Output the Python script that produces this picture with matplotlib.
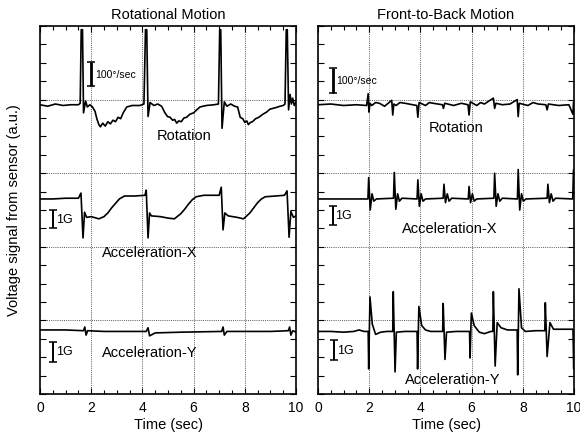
import matplotlib
matplotlib.use("Agg")
import matplotlib.pyplot as plt
from matplotlib.ticker import MultipleLocator, NullFormatter

plt.rcParams['font.family'] = ['Liberation Sans', 'DejaVu Sans']

# ---------------- data (time in sec, signal in arbitrary units) ----------------
rot_left_t = [0, 0.3, 0.6, 0.9, 1.2, 1.5, 1.57, 1.61, 1.66, 1.70, 1.78, 1.85, 1.95, 2.05, 2.15, 2.22,
              2.3, 2.36, 2.45, 2.55, 2.65, 2.75, 2.85, 2.95, 3.05, 3.15, 3.25, 3.39, 3.6, 3.9,
              4.06, 4.12, 4.17, 4.22, 4.3, 4.45, 4.6, 4.75, 4.88, 4.98, 5.08, 5.18, 5.26, 5.34, 5.42,
              5.52, 5.62, 5.73, 5.85, 6.0, 6.12, 6.25, 6.5, 6.8, 6.97, 7.02, 7.06, 7.11, 7.2, 7.3,
              7.45, 7.6, 7.72, 7.82, 7.92, 8.0, 8.08, 8.14, 8.22, 8.3, 8.42, 8.55, 8.7, 8.85, 8.98,
              9.2, 9.38, 9.5, 9.57, 9.62, 9.66, 9.71, 9.77, 9.82, 9.87, 9.93, 10.0]
rot_left_v = [3.93, 3.91, 3.94, 3.92, 3.93, 3.93, 3.95, 4.95, 4.95, 3.82, 3.98, 3.90, 3.93, 3.90, 3.84, 3.74,
              3.66, 3.63, 3.68, 3.64, 3.70, 3.67, 3.72, 3.70, 3.76, 3.74, 3.82, 3.90, 3.92, 3.92,
              3.94, 4.95, 4.95, 3.77, 3.96, 3.92, 3.94, 3.91, 3.82, 3.77, 3.76, 3.72, 3.73, 3.68, 3.71,
              3.70, 3.75, 3.76, 3.80, 3.82, 3.86, 3.90, 3.92, 3.93, 3.94, 4.95, 4.95, 3.61, 3.97, 3.91,
              3.94, 3.91, 3.90, 3.76, 3.74, 3.69, 3.71, 3.66, 3.69, 3.70, 3.74, 3.76, 3.80, 3.83, 3.87,
              3.89, 3.91, 3.92, 3.94, 4.95, 4.95, 3.86, 4.07, 3.94, 4.02, 3.92, 3.97]

accx_left_t = [0, 0.5, 1.0, 1.5, 1.6, 1.68, 1.74, 1.82, 2.0, 2.3, 2.5, 2.65, 2.8, 2.95, 3.1, 3.3,
               3.7, 4.1, 4.15, 4.22, 4.28, 4.35, 4.7, 5.0, 5.25, 5.5, 5.65, 5.8, 5.95, 6.1, 6.4,
               7.0, 7.08, 7.15, 7.22, 7.35, 7.7, 7.95, 8.2, 8.35, 8.5, 8.65, 8.8, 9.2, 9.55,
               9.65, 9.73, 9.8, 9.9, 10.0]
accx_left_v = [2.65, 2.65, 2.66, 2.66, 2.73, 2.12, 2.47, 2.40, 2.41, 2.38, 2.41, 2.46, 2.53, 2.59, 2.65, 2.69,
               2.69, 2.70, 2.77, 2.12, 2.46, 2.42, 2.41, 2.39, 2.38, 2.45, 2.51, 2.58, 2.64, 2.68, 2.70,
               2.70, 2.81, 2.23, 2.46, 2.42, 2.40, 2.38, 2.46, 2.53, 2.60, 2.65, 2.68, 2.69, 2.70,
               2.76, 2.13, 2.48, 2.40, 2.42]

accy_left_t = [0, 1.0, 1.7, 1.75, 1.8, 1.86, 2.5, 4.15, 4.22, 4.28, 4.5, 5.5, 7.1, 7.15, 7.2, 7.3,
               9.0, 9.7, 9.75, 9.8, 9.87, 10.0]
accy_left_v = [0.87, 0.87, 0.86, 0.91, 0.80, 0.86, 0.85, 0.85, 0.90, 0.79, 0.83, 0.84, 0.85, 0.91, 0.80, 0.85,
               0.85, 0.86, 0.91, 0.80, 0.86, 0.84]

rot_right_t = [0, 0.5, 1.0, 1.5, 1.9, 1.96, 1.99, 2.03, 2.1, 2.25, 2.4, 2.6, 2.88, 2.92, 2.96, 3.05, 3.2,
               3.4, 3.7, 3.86, 3.9, 3.95, 4.2, 4.35, 4.5, 4.86, 4.9, 4.95, 5.3, 5.6, 5.86, 5.9, 5.95, 6.2,
               6.35, 6.5, 6.85, 6.9, 6.95, 7.2, 7.5, 7.78, 7.82, 7.86, 8.2, 8.4, 8.6, 8.9, 8.95, 9.0, 9.4,
               9.8, 9.96, 9.98, 10.0]
rot_right_v = [3.93, 3.94, 3.92, 3.93, 3.92, 4.08, 3.83, 3.95, 3.92, 3.96, 3.95, 3.91, 3.99, 3.79, 3.94, 3.92,
               3.96, 3.95, 3.93, 3.92, 3.76, 3.96, 3.92, 3.96, 3.95, 3.93, 3.88, 3.95, 3.92, 3.95, 3.93,
               3.79, 3.97, 3.92, 3.96, 3.94, 4.02, 3.88, 3.95, 3.93, 3.94, 4.00, 3.77, 3.95, 3.92, 3.96,
               3.94, 3.93, 3.86, 3.94, 3.92, 3.93, 3.80, 3.96, 3.98]

accx_right_events = [1.98, 2.98, 3.9, 4.92, 5.9, 6.9, 7.82, 8.98, 9.98]
accx_right_peaks = [2.94, 3.01, 2.91, 2.85, 2.82, 3.00, 3.05, 2.85, 3.04]
accx_right_dips = [2.50, 2.51, 2.55, 2.60, 2.60, 2.55, 2.50, 2.60, 2.55]
accx_right_base = [2.65, 2.66, 2.65, 2.66, 2.65, 2.66, 2.65, 2.66, 2.65]

accy_right_t = [0, 0.5, 1.0, 1.4, 1.6, 1.8, 1.96, 1.98, 2.03, 2.12, 2.25, 2.45, 2.7, 2.92, 2.94, 3.01,
                3.06, 3.4, 3.7, 3.87, 3.89, 3.94, 4.05, 4.2, 4.4, 4.7, 4.87, 4.89, 4.96, 5.02, 5.4,
                5.75, 5.92, 5.94, 5.99, 6.1, 6.3, 6.5, 6.75, 6.83, 6.85, 6.92, 7.0, 7.15, 7.4, 7.7,
                7.78, 7.8, 7.85, 7.95, 8.1, 8.5, 8.86, 8.88, 8.95, 9.06, 9.2, 9.5, 9.96, 9.99, 10.0]
accy_right_v = [0.85, 0.85, 0.84, 0.85, 0.87, 0.85, 0.85, 0.34, 1.32, 0.95, 0.81, 0.84, 0.85, 0.85, 1.39, 0.30,
                0.84, 0.85, 0.85, 0.85, 0.34, 1.19, 0.93, 0.87, 0.85, 0.85, 0.85, 1.23, 0.47, 0.84, 0.85,
                0.85, 0.85, 0.49, 1.10, 0.93, 0.84, 0.82, 0.85, 0.85, 1.39, 0.38, 0.97, 0.90, 0.87, 0.87,
                0.87, 0.26, 1.43, 0.90, 0.85, 0.86, 0.86, 1.24, 0.51, 0.97, 0.88, 0.88, 0.88, 0.34, 0.80]

x_ticks = [0, 2, 4, 6, 8, 10]
grid_x = [2, 4, 6, 8]
grid_y = [1, 2, 3, 4]

# ---------------- figure ----------------
W, H = 580, 436
fig = plt.figure(figsize=(W / 100, H / 100), dpi=100)
ax_l = fig.add_axes([40 / W, 42 / H, 256 / W, 368 / H])
ax_r = fig.add_axes([318 / W, 42 / H, 256 / W, 368 / H])


def style(ax, title):
    ax.set_xlim(0, 10)
    ax.set_ylim(0, 5)
    for g in grid_x:
        ax.axvline(g, color='0.35', lw=0.7, ls=(0, (1, 1.2)), zorder=1)
    for g in grid_y:
        ax.axhline(g, color='0.35', lw=0.7, ls=(0, (1, 1.2)), zorder=1)
    ax.set_xticks(x_ticks)
    ax.xaxis.set_minor_locator(MultipleLocator(0.5))
    ax.yaxis.set_major_locator(MultipleLocator(0.25))
    ax.yaxis.set_major_formatter(NullFormatter())
    ax.tick_params(which='both', direction='in', top=True, right=True, width=0.8)
    ax.tick_params(which='major', length=4, labelsize=10, pad=5)
    ax.tick_params(axis='x', which='minor', length=3)
    for s in ax.spines.values():
        s.set_linewidth(1.2)
    ax.set_title(title, fontsize=10.5, pad=5)
    ax.text(0.5, -0.085, 'Time (sec)', transform=ax.transAxes, ha='center', va='center', fontsize=10.5)


def scale_bar(ax, x, y0, y1, lw=1.4, cap=3):
    ax.errorbar([x], [(y0 + y1) / 2], yerr=[(y1 - y0) / 2], color='k', lw=lw, capsize=cap,
                capthick=1.1, zorder=4)


style(ax_l, 'Rotational Motion')
style(ax_r, 'Front-to-Back Motion')

lw = 1.2
ax_l.plot(rot_left_t, rot_left_v, color='k', lw=lw, zorder=3)
ax_l.plot(accx_left_t, accx_left_v, color='k', lw=lw, zorder=3)
ax_l.plot(accy_left_t, accy_left_v, color='k', lw=lw, zorder=3)

# right acceleration-X built from event keypoints
ax_t, ax_v = [0.0], [accx_right_base[0]]
for ev, pk, dp, bs in zip(accx_right_events, accx_right_peaks, accx_right_dips, accx_right_base):
    ax_t += [ev - 0.03, ev, ev + 0.06, ev + 0.13, ev + 0.2, ev + 0.3]
    ax_v += [bs, pk, dp, 2.72, 2.62, bs]
keep = [i for i, t in enumerate(ax_t) if t <= 10.0]
ax_r.plot([ax_t[i] for i in keep], [ax_v[i] for i in keep], color='k', lw=lw, zorder=3)
ax_r.plot(rot_right_t, rot_right_v, color='k', lw=lw, zorder=3)
ax_r.plot(accy_right_t, accy_right_v, color='k', lw=lw, zorder=3)

# scale bars & labels (left)
scale_bar(ax_l, 2.0, 4.18, 4.51, lw=2.0)
ax_l.text(2.14, 4.34, '100°/sec', fontsize=7.5, ha='left', va='center')
scale_bar(ax_l, 0.51, 2.26, 2.50)
ax_l.text(0.62, 2.37, '1G', fontsize=9, ha='left', va='center')
scale_bar(ax_l, 0.51, 0.44, 0.71)
ax_l.text(0.62, 0.57, '1G', fontsize=9, ha='left', va='center')
ax_l.text(5.63, 3.51, 'Rotation', fontsize=10.5, ha='center', va='center')
ax_l.text(4.27, 1.92, 'Acceleration-X', fontsize=10.5, ha='center', va='center')
ax_l.text(4.30, 0.56, 'Acceleration-Y', fontsize=10.5, ha='center', va='center')

# scale bars & labels (right)
scale_bar(ax_r, 0.57, 4.09, 4.43, lw=2.0)
ax_r.text(0.70, 4.25, '100°/sec', fontsize=7.5, ha='left', va='center')
scale_bar(ax_r, 0.57, 2.30, 2.55)
ax_r.text(0.68, 2.42, '1G', fontsize=9, ha='left', va='center')
scale_bar(ax_r, 0.62, 0.46, 0.73)
ax_r.text(0.73, 0.58, '1G', fontsize=9, ha='left', va='center')
ax_r.text(5.39, 3.61, 'Rotation', fontsize=10.5, ha='center', va='center')
ax_r.text(5.14, 2.24, 'Acceleration-X', fontsize=10.5, ha='center', va='center')
ax_r.text(5.25, 0.19, 'Acceleration-Y', fontsize=10.5, ha='center', va='center')

fig.text(14 / W, 1 - 210 / H, 'Voltage signal from sensor (a.u.)', rotation=90,
         ha='center', va='center', fontsize=10.5)

fig.savefig('out.png', dpi=100)
